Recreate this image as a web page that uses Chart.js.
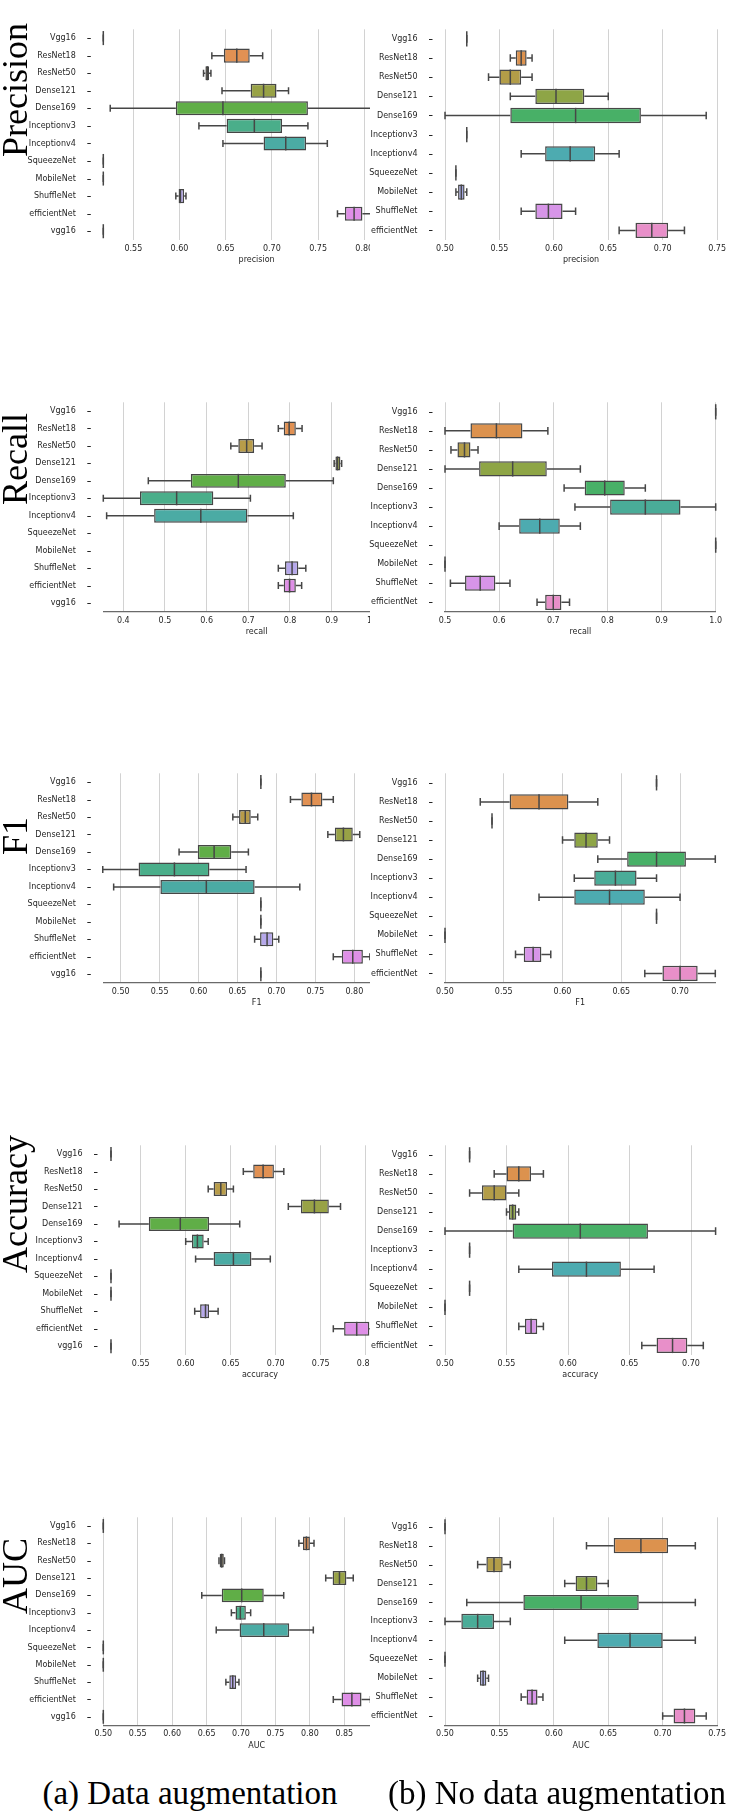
<!DOCTYPE html>
<html><head><meta charset="utf-8">
<script src="https://cdn.jsdelivr.net/npm/chart.js@4.4.1/dist/chart.umd.min.js"></script>
<style>
html,body{margin:0;padding:0;background:#fff;}
body{width:730px;height:1813px;position:relative;overflow:hidden;}
.clip{position:absolute;overflow:hidden;}
.rowlab{position:absolute;font-family:"Liberation Serif","Times New Roman",serif;font-size:36px;line-height:1;white-space:nowrap;transform:translate(-50%,-50%) rotate(-90deg);color:#000;}
.cap{position:absolute;font-family:"Liberation Serif","Times New Roman",serif;font-size:33px;line-height:1;white-space:nowrap;transform:translate(-50%,-50%);color:#000;}
</style></head><body>
<script>
// ---------------- DATA ----------------
const catsAug = ['Vgg16','ResNet18','ResNet50','Dense121','Dense169','Inceptionv3','Inceptionv4','SqueezeNet','MobileNet','ShuffleNet','efficientNet','vgg16'];
const catsNoAug = ['Vgg16','ResNet18','ResNet50','Dense121','Dense169','Inceptionv3','Inceptionv4','SqueezeNet','MobileNet','ShuffleNet','efficientNet'];

// each entry: [lower whisker, Q1, median, Q3, upper whisker]; a single number = constant result; null = nothing drawn
const precisionAug = [0.5175,[0.635,0.648,0.662,0.676,0.690],[0.626,0.628,0.630,0.632,0.634],[0.646,0.677,0.691,0.705,0.718],[0.525,0.596,0.647,0.739,0.830],[0.621,0.651,0.681,0.711,0.739],[0.647,0.691,0.715,0.737,0.760],0.5175,0.5175,[0.596,0.599,0.601,0.605,0.607],[0.771,0.779,0.789,0.798,0.812],0.5175];
const precisionNoAug = [0.52,[0.56,0.565,0.57,0.575,0.58],[0.54,0.55,0.56,0.57,0.58],[0.56,0.583,0.602,0.628,0.65],[0.50,0.56,0.62,0.68,0.74],0.52,[0.57,0.592,0.615,0.638,0.66],0.51,[0.51,0.512,0.515,0.518,0.52],[0.57,0.583,0.595,0.608,0.62],[0.66,0.675,0.69,0.705,0.72]];
const recallAug = [null,[0.772,0.785,0.798,0.814,0.829],[0.658,0.676,0.696,0.714,0.733],[0.906,0.909,0.914,0.921,0.924],[0.46,0.562,0.676,0.790,0.904],[0.352,0.44,0.528,0.616,0.705],[0.36,0.474,0.586,0.698,0.808],null,null,[0.772,0.788,0.805,0.82,0.838],[0.772,0.785,0.799,0.814,0.828],null];
const recallNoAug = [1.0,[0.50,0.547,0.595,0.643,0.69],[0.511,0.523,0.536,0.547,0.561],[0.50,0.563,0.625,0.688,0.75],[0.72,0.758,0.795,0.832,0.87],[0.74,0.805,0.87,0.935,1.0],[0.60,0.637,0.675,0.712,0.75],1.0,0.5,[0.51,0.537,0.565,0.593,0.62],[0.67,0.685,0.70,0.715,0.73]];
const f1Aug = [0.68,[0.718,0.732,0.745,0.759,0.773],[0.644,0.652,0.66,0.667,0.676],[0.766,0.775,0.786,0.798,0.807],[0.575,0.599,0.62,0.642,0.664],[0.477,0.523,0.569,0.614,0.661],[0.491,0.551,0.61,0.672,0.73],0.68,0.68,[0.672,0.679,0.688,0.696,0.703],[0.773,0.784,0.798,0.811,0.82],0.68];
const f1NoAug = [0.68,[0.53,0.555,0.58,0.605,0.63],0.54,[0.60,0.61,0.62,0.63,0.64],[0.63,0.655,0.68,0.705,0.73],[0.61,0.627,0.645,0.663,0.68],[0.58,0.61,0.64,0.67,0.70],0.68,0.50,[0.56,0.567,0.575,0.582,0.59],[0.67,0.685,0.70,0.715,0.73]];
const accuracyAug = [0.517,[0.664,0.675,0.686,0.698,0.709],[0.625,0.631,0.639,0.646,0.653],[0.714,0.728,0.743,0.759,0.772],[0.526,0.559,0.594,0.626,0.66],[0.60,0.607,0.613,0.62,0.625],[0.611,0.631,0.653,0.673,0.694],0.517,0.517,[0.61,0.616,0.622,0.626,0.636],[0.764,0.776,0.79,0.804,0.815],0.517];
const accuracyNoAug = [0.52,[0.54,0.55,0.56,0.57,0.58],[0.52,0.53,0.54,0.55,0.56],[0.55,0.552,0.555,0.558,0.56],[0.50,0.555,0.61,0.665,0.72],0.52,[0.56,0.587,0.615,0.643,0.67],0.52,0.50,[0.56,0.565,0.57,0.575,0.58],[0.66,0.672,0.685,0.697,0.71]];
const aucAug = [0.50,[0.784,0.79,0.795,0.80,0.806],[0.668,0.669,0.672,0.675,0.676],[0.823,0.833,0.843,0.853,0.863],[0.643,0.672,0.701,0.733,0.762],[0.686,0.692,0.699,0.707,0.714],[0.664,0.698,0.733,0.770,0.805],0.50,0.50,[0.678,0.683,0.688,0.693,0.697],[0.834,0.846,0.861,0.875,0.888],0.50];
const aucNoAug = [0.50,[0.63,0.655,0.68,0.705,0.73],[0.53,0.538,0.545,0.553,0.56],[0.61,0.62,0.63,0.64,0.65],[0.52,0.572,0.625,0.678,0.73],[0.50,0.515,0.53,0.545,0.56],[0.61,0.64,0.67,0.70,0.73],0.50,[0.53,0.532,0.535,0.538,0.54],[0.57,0.575,0.58,0.585,0.59],[0.70,0.71,0.72,0.73,0.74]];

// tick labels
const precisionAugTicks = [0.55,0.60,0.65,0.70,0.75,0.80];
const precisionNoAugTicks = [0.50,0.55,0.60,0.65,0.70,0.75];
const recallAugTicks = [0.4,0.5,0.6,0.7,0.8,0.9,1.0];
const recallNoAugTicks = [0.5,0.6,0.7,0.8,0.9,1.0];
const f1AugTicks = [0.50,0.55,0.60,0.65,0.70,0.75,0.80];
const f1NoAugTicks = [0.50,0.55,0.60,0.65,0.70];
const accuracyAugTicks = [0.55,0.60,0.65,0.70,0.75,0.80];
const accuracyNoAugTicks = [0.50,0.55,0.60,0.65,0.70];
const aucAugTicks = [0.50,0.55,0.60,0.65,0.70,0.75,0.80,0.85];
const aucNoAugTicks = [0.50,0.55,0.60,0.65,0.70,0.75];

const rowNames = ['Precision','Recall','F1','Accuracy','AUC'];
const axisTitles = ['precision','recall','F1','accuracy','AUC'];
const captions = ['(a) Data augmentation','(b) No data augmentation'];

// ---------------- LAYOUT ----------------
const rows = [
  {labelY:90,   top:5.3,    bottom:240,    spine:false},
  {labelY:459,  top:378,    bottom:611.8,  spine:true},
  {labelY:836,  top:749.4,  bottom:983,    spine:true},
  {labelY:1204, top:1121.5, bottom:1355,   spine:false},
  {labelY:1575.5,top:1493,  bottom:1725.5, spine:true}
];
const panels = [
  {row:0, side:'a', stats:precisionAug,   ticks:precisionAugTicks,   dec:2, L:103.3, min:0.5175, max:0.8495},
  {row:0, side:'b', stats:precisionNoAug, ticks:precisionNoAugTicks, dec:2, R:720,   min:0.50,   max:0.75},
  {row:1, side:'a', stats:recallAug,      ticks:recallAugTicks,      dec:1, L:103.3, min:0.352,  max:1.088},
  {row:1, side:'b', stats:recallNoAug,    ticks:recallNoAugTicks,    dec:1, R:715.7, min:0.50,   max:1.0},
  {row:2, side:'a', stats:f1Aug,          ticks:f1AugTicks,          dec:2, L:103.3, min:0.4777, max:0.8715},
  {row:2, side:'b', stats:f1NoAug,        ticks:f1NoAugTicks,        dec:2, R:715.3, min:0.50,   max:0.73},
  {row:3, side:'a', stats:accuracyAug,    ticks:accuracyAugTicks,    dec:2, L:110,   min:0.5159, max:0.8492},
  {row:3, side:'b', stats:accuracyNoAug,  ticks:accuracyNoAugTicks,  dec:2, R:715.6, min:0.50,   max:0.72},
  {row:4, side:'a', stats:aucAug,         ticks:aucAugTicks,         dec:2, L:103.3, min:0.50,   max:0.9454},
  {row:4, side:'b', stats:aucNoAug,       ticks:aucNoAugTicks,       dec:2, R:720,   min:0.50,   max:0.75}
];
const AXIS_H = 25;
const TXT = '#262626';
const FONT = {family:'DejaVu Sans', size:8};

// ---------------- seaborn-like husl palette ----------------
const M = [[3.2406,-1.5372,-0.4986],[-0.9689,1.8758,0.0415],[0.0557,-0.2040,1.0570]];
function maxChroma(L,H){
  const hr=H*Math.PI/180, sH=Math.sin(hr), cH=Math.cos(hr);
  const sub1=Math.pow(L+16,3)/1560896, sub2= sub1>0.008856?sub1:L/903.3;
  let res=Infinity;
  for(const [m1,m2,m3] of M){
    const top=(0.99915*m1+1.05122*m2+1.14460*m3)*sub2;
    const rb=0.86330*m3-0.17266*m2, lb=0.12949*m3-0.38848*m1;
    const bottom=(rb*sH+lb*cH)*sub2;
    for(const t of [0,1]){const C=L*(top-1.05122*t)/(bottom+0.17266*sH*t); if(C>0&&C<res)res=C;}
  }
  return res;
}
function husl2rgb(H,S,L){
  const C=maxChroma(L,H)/100*S, hr=H*Math.PI/180;
  const U=Math.cos(hr)*C, V=Math.sin(hr)*C;
  const fy=(L+16)/116, Y= Math.pow(fy,3)>0.008856?Math.pow(fy,3):(116*fy-16)/903.3;
  const vU=U/(13*L)+0.19784, vV=V/(13*L)+0.46834;
  const X=-(9*Y*vU)/((vU-4)*vV-vU*vV);
  const Z=(9*Y-15*vV*Y-vV*X)/(3*vV);
  return M.map(r=>{const v=r[0]*X+r[1]*Y+r[2]*Z; const g=v<=0.0031308?12.92*v:1.055*Math.pow(v,1/2.4)-0.055; return Math.min(1,Math.max(0,g));});
}
function rgb2hls(r,g,b){const mx=Math.max(r,g,b),mn=Math.min(r,g,b),l=(mx+mn)/2;if(mx===mn)return[0,l,0];const d=mx-mn;const s=l<=0.5?d/(mx+mn):d/(2-mx-mn);const rc=(mx-r)/d,gc=(mx-g)/d,bc=(mx-b)/d;let h;if(r===mx)h=bc-gc;else if(g===mx)h=2+rc-bc;else h=4+gc-rc;h=((h/6)%1+1)%1;return[h,l,s];}
function hls2rgb(h,l,s){if(s===0)return[l,l,l];const m2=l<=0.5?l*(1+s):l+s-l*s,m1=2*l-m2;const v=hu=>{hu=((hu%1)+1)%1;if(hu<1/6)return m1+(m2-m1)*hu*6;if(hu<0.5)return m2;if(hu<2/3)return m1+(m2-m1)*(2/3-hu)*6;return m1;};return[v(h+1/3),v(h),v(h-1/3)];}
const hex=c=>'#'+c.map(v=>Math.round(v*255).toString(16).padStart(2,'0')).join('');
function palette(n){
  const cols=[]; let minL=1;
  for(let i=0;i<n;i++){
    const H=(((i/n)+0.01)%1)*359;
    const rgb=husl2rgb(H,0.9*99,0.7*99);
    const [h,l,s]=rgb2hls(...rgb);
    minL=Math.min(minL,l);
    cols.push(hex(hls2rgb(h,l,s*0.75)));
  }
  const lum=minL*0.6;
  return {cols, gray:hex([lum,lum,lum])};
}

// ---------------- DRAW ----------------
Chart.defaults.font.family='DejaVu Sans';
function makePanel(p, idx){
  const row=rows[p.row], isA=p.side==='a';
  const cats=isA?catsAug:catsNoAug;
  const pal=palette(cats.length);
  const S=p.stats.map(d=>d==null?null:(Array.isArray(d)?d:[d,d,d,d,d]));
  const topI=Math.floor(row.top), botI=Math.ceil(row.bottom+AXIS_H), h=botI-topI;
  const clip=document.createElement('div'); clip.className='clip';
  const left=isA?0:368, cw=isA?410:362;
  clip.style.left=left+'px'; clip.style.top=topI+'px';
  clip.style.width=(isA?370:362)+'px'; clip.style.height=h+'px';
  const cv=document.createElement('canvas'); cv.width=cw; cv.height=h;
  cv.style.width=cw+'px'; cv.style.height=h+'px';
  clip.appendChild(cv); document.body.appendChild(clip);
  const yW=isA?p.L:445-left;
  const padR=isA?0:730-p.R;
  const plug={
    id:'boxes'+idx,
    beforeDatasetsDraw(chart){
      const {ctx,scales:{x,y}}=chart;
      const band=Math.abs(y.getPixelForValue(1)-y.getPixelForValue(0)), bh=band*0.8;
      ctx.save(); ctx.strokeStyle=pal.gray; ctx.lineWidth=1.5;
      S.forEach((s,i)=>{ if(!s)return; const cy=y.getPixelForValue(i), px=v=>x.getPixelForValue(v);
        ctx.beginPath();
        ctx.moveTo(px(s[0]),cy); ctx.lineTo(px(s[1]),cy);
        ctx.moveTo(px(s[3]),cy); ctx.lineTo(px(s[4]),cy);
        ctx.moveTo(px(s[0]),cy-bh/4); ctx.lineTo(px(s[0]),cy+bh/4);
        ctx.moveTo(px(s[4]),cy-bh/4); ctx.lineTo(px(s[4]),cy+bh/4);
        ctx.stroke();
      });
      ctx.restore();
    },
    afterDatasetsDraw(chart){
      const {ctx,scales:{x,y}}=chart;
      const band=Math.abs(y.getPixelForValue(1)-y.getPixelForValue(0)), bh=band*0.8;
      ctx.save(); ctx.strokeStyle=pal.gray; ctx.lineWidth=1.5;
      S.forEach((s,i)=>{ if(!s)return; const cy=y.getPixelForValue(i), mx=x.getPixelForValue(s[2]);
        ctx.beginPath(); ctx.moveTo(mx,cy-bh/2); ctx.lineTo(mx,cy+bh/2); ctx.stroke();
      });
      ctx.strokeStyle=TXT; ctx.lineWidth=1;
      cats.forEach((c,i)=>{const cy=Math.round(y.getPixelForValue(i))+0.5; ctx.beginPath(); ctx.moveTo(yW-16,cy); ctx.lineTo(yW-12.5,cy); ctx.stroke();});
      ctx.restore();
    }
  };
  new Chart(cv,{
    type:'bar',
    data:{labels:cats,datasets:[{data:S.map(s=>s?[s[1],s[3]]:null),backgroundColor:pal.cols,borderColor:pal.gray,borderWidth:1.5,borderSkipped:false,barPercentage:0.8,categoryPercentage:1,clip:false}]},
    options:{
      indexAxis:'y',responsive:false,animation:false,events:[],
      layout:{padding:{left:0,right:padR,top:row.top-topI,bottom:botI-(row.bottom+AXIS_H)}},
      plugins:{legend:{display:false},tooltip:{enabled:false}},
      scales:{
        x:{type:'linear',position:'bottom',min:p.min,max:p.max,
          afterBuildTicks:s=>{s.ticks=p.ticks.map(v=>({value:v}));},
          afterFit:s=>{s.height=AXIS_H;},
          grid:{color:'#d2d2d2',lineWidth:1,drawTicks:false},
          border:{display:row.spine,color:'#6a6a6a',width:1.2},
          ticks:{font:FONT,color:TXT,padding:4,autoSkip:false,maxRotation:0,callback:v=>Number(v).toFixed(p.dec)},
          title:{display:true,text:axisTitles[p.row],font:FONT,color:TXT,padding:0}
        },
        y:{type:'category',offset:true,
          afterFit:s=>{s.width=yW;},
          grid:{display:false},border:{display:false},
          ticks:{font:FONT,color:TXT,padding:19.5,autoSkip:false}
        }
      }
    },
    plugins:[plug]
  });
}
panels.forEach(makePanel);

rows.forEach((r,i)=>{
  const d=document.createElement('div'); d.className='rowlab'; d.textContent=rowNames[i];
  d.style.left='15px'; d.style.top=r.labelY+'px'; document.body.appendChild(d);
});
[[190,1793],[557,1793]].forEach((c,i)=>{
  const d=document.createElement('div'); d.className='cap'; d.textContent=captions[i];
  d.style.left=c[0]+'px'; d.style.top=c[1]+'px'; document.body.appendChild(d);
});
</script>
</body></html>
